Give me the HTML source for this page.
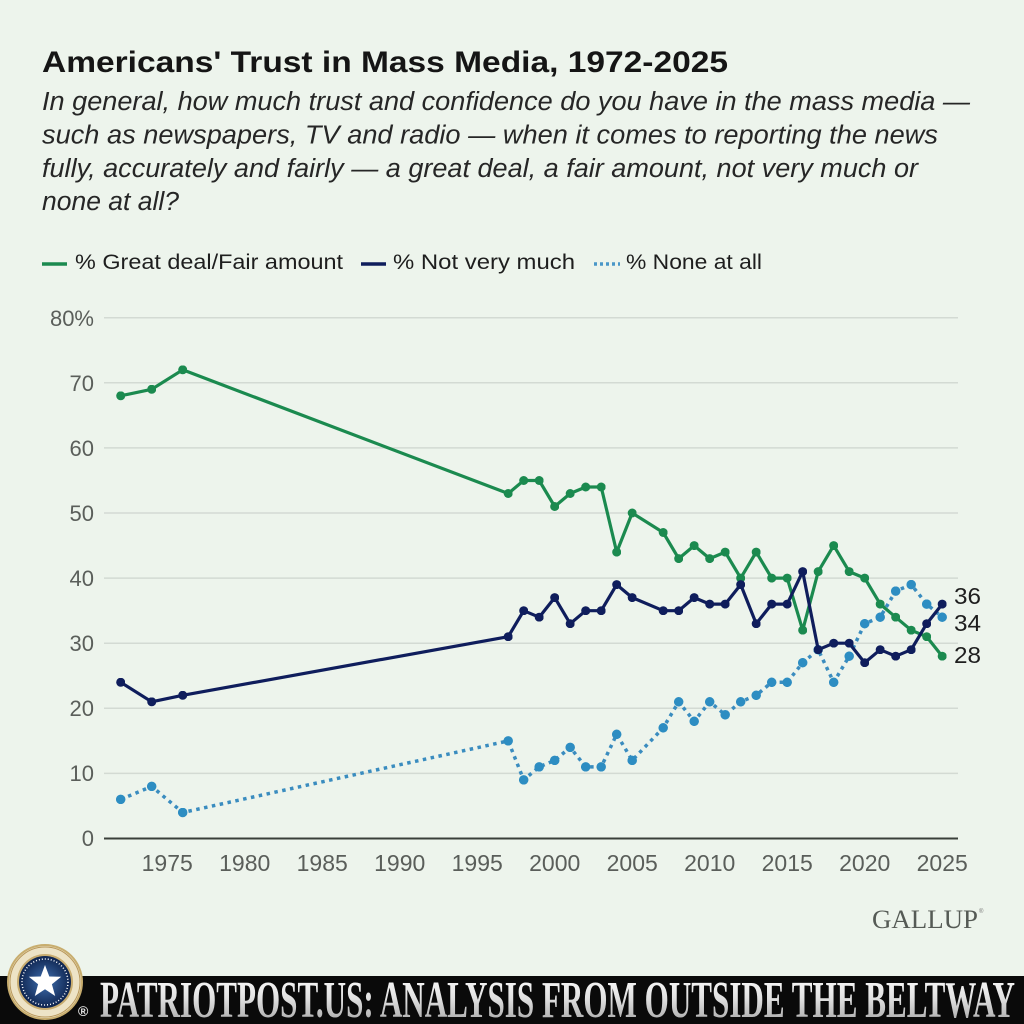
<!DOCTYPE html>
<html>
<head>
<meta charset="utf-8">
<style>
  html,body{margin:0;padding:0;background:#edf4ec;}
  body{width:1024px;height:1024px;overflow:hidden;}
  svg{display:block;}
</style>
</head>
<body>
<svg width="1024" height="1024" viewBox="0 0 1024 1024" xmlns="http://www.w3.org/2000/svg">
  <defs>
    <marker id="mg" viewBox="0 0 10 10" refX="5" refY="5" markerWidth="9" markerHeight="9" markerUnits="userSpaceOnUse">
      <circle cx="5" cy="5" r="5" fill="#1b8a4f"/>
    </marker>
    <marker id="mn" viewBox="0 0 10 10" refX="5" refY="5" markerWidth="9" markerHeight="9" markerUnits="userSpaceOnUse">
      <circle cx="5" cy="5" r="5" fill="#0f1d5c"/>
    </marker>
    <marker id="mb" viewBox="0 0 10 10" refX="5" refY="5" markerWidth="9.5" markerHeight="9.5" markerUnits="userSpaceOnUse">
      <circle cx="5" cy="5" r="5" fill="#2d8dc2"/>
    </marker>
    <linearGradient id="silver" x1="0" y1="0" x2="0" y2="1">
      <stop offset="0" stop-color="#ffffff"/>
      <stop offset="0.45" stop-color="#e2e2e2"/>
      <stop offset="1" stop-color="#9a9a9a"/>
    </linearGradient>
    <radialGradient id="navyg" cx="0.5" cy="0.5" r="0.5">
      <stop offset="0" stop-color="#3f6fb0"/>
      <stop offset="1" stop-color="#0f2550"/>
    </radialGradient>
  </defs>

  <rect x="0" y="0" width="1024" height="1024" fill="#edf4ec"/>

  <!-- Title -->
  <text x="42" y="72" font-family="Liberation Sans, sans-serif" font-weight="bold" font-size="30" fill="#151515" textLength="686" lengthAdjust="spacingAndGlyphs">Americans' Trust in Mass Media, 1972-2025</text>

  <!-- Subtitle -->
  <g font-family="Liberation Sans, sans-serif" font-style="italic" font-size="25.5" fill="#262626">
    <text x="42" y="110" textLength="928" lengthAdjust="spacingAndGlyphs">In general, how much trust and confidence do you have in the mass media —</text>
    <text x="42" y="143.5" textLength="896" lengthAdjust="spacingAndGlyphs">such as newspapers, TV and radio — when it comes to reporting the news</text>
    <text x="42" y="177" textLength="876" lengthAdjust="spacingAndGlyphs">fully, accurately and fairly — a great deal, a fair amount, not very much or</text>
    <text x="42" y="210" textLength="137" lengthAdjust="spacingAndGlyphs">none at all?</text>
  </g>

  <!-- Legend -->
  <g font-family="Liberation Sans, sans-serif" font-size="21.5" fill="#1e1e1e">
    <line x1="42" y1="264" x2="67" y2="264" stroke="#1b8a4f" stroke-width="3.5"/>
    <text x="75" y="269" textLength="268" lengthAdjust="spacingAndGlyphs">% Great deal/Fair amount</text>
    <line x1="361" y1="264" x2="386" y2="264" stroke="#0f1d5c" stroke-width="3.5"/>
    <text x="393" y="269" textLength="182" lengthAdjust="spacingAndGlyphs">% Not very much</text>
    <line x1="594" y1="264" x2="620" y2="264" stroke="#4a97c8" stroke-width="3.5" stroke-dasharray="3 3"/>
    <text x="626" y="269" textLength="136" lengthAdjust="spacingAndGlyphs">% None at all</text>
  </g>

  <!-- Gridlines -->
  <g stroke="#d3dad3" stroke-width="1.5">
    <line x1="104" y1="317.7" x2="958" y2="317.7"/>
    <line x1="104" y1="382.8" x2="958" y2="382.8"/>
    <line x1="104" y1="447.9" x2="958" y2="447.9"/>
    <line x1="104" y1="513.0" x2="958" y2="513.0"/>
    <line x1="104" y1="578.1" x2="958" y2="578.1"/>
    <line x1="104" y1="643.2" x2="958" y2="643.2"/>
    <line x1="104" y1="708.3" x2="958" y2="708.3"/>
    <line x1="104" y1="773.4" x2="958" y2="773.4"/>
  </g>
  <line x1="104" y1="838.5" x2="958" y2="838.5" stroke="#3a3f3a" stroke-width="2"/>

  <!-- Y labels -->
  <g font-family="Liberation Sans, sans-serif" font-size="22" fill="#5a5e5a" text-anchor="end">
    <text x="94" y="326">80%</text>
    <text x="94" y="391">70</text>
    <text x="94" y="456">60</text>
    <text x="94" y="521">50</text>
    <text x="94" y="586">40</text>
    <text x="94" y="651">30</text>
    <text x="94" y="716">20</text>
    <text x="94" y="781">10</text>
    <text x="94" y="846">0</text>
  </g>

  <!-- X labels -->
  <g font-family="Liberation Sans, sans-serif" font-size="23" fill="#5a5e5a" text-anchor="middle">
    <text x="167.2" y="871">1975</text>
    <text x="244.7" y="871">1980</text>
    <text x="322.2" y="871">1985</text>
    <text x="399.7" y="871">1990</text>
    <text x="477.2" y="871">1995</text>
    <text x="554.7" y="871">2000</text>
    <text x="632.2" y="871">2005</text>
    <text x="709.7" y="871">2010</text>
    <text x="787.2" y="871">2015</text>
    <text x="864.7" y="871">2020</text>
    <text x="942.2" y="871">2025</text>
  </g>

  <!-- None at all (dotted) -->
  <polyline fill="none" stroke="#3a8cbf" stroke-width="3.5" stroke-dasharray="3.5 4.5"
    marker-start="url(#mb)" marker-mid="url(#mb)" marker-end="url(#mb)"
    points="120.7,799.4 151.7,786.4 182.7,812.5 508.2,740.9 523.7,779.9 539.2,766.9 554.7,760.4 570.2,747.4 585.7,766.9 601.2,766.9 616.7,734.3 632.2,760.4 663.2,727.8 678.7,701.8 694.2,721.3 709.7,701.8 725.2,714.8 740.7,701.8 756.2,695.3 771.7,682.3 787.2,682.3 802.7,662.7 818.2,649.7 833.7,682.3 849.2,656.2 864.7,623.7 880.2,617.2 895.7,591.1 911.2,584.6 926.7,604.1 942.2,617.2"/>

  <!-- Great deal/Fair amount (green) -->
  <polyline fill="none" stroke="#1b8a4f" stroke-width="3.2" stroke-linejoin="round"
    marker-start="url(#mg)" marker-mid="url(#mg)" marker-end="url(#mg)"
    points="120.7,395.8 151.7,389.3 182.7,369.8 508.2,493.5 523.7,480.5 539.2,480.5 554.7,506.5 570.2,493.5 585.7,487.0 601.2,487.0 616.7,552.1 632.2,513.0 663.2,532.5 678.7,558.6 694.2,545.6 709.7,558.6 725.2,552.1 740.7,578.1 756.2,552.1 771.7,578.1 787.2,578.1 802.7,630.2 818.2,571.6 833.7,545.6 849.2,571.6 864.7,578.1 880.2,604.1 895.7,617.2 911.2,630.2 926.7,636.7 942.2,656.2"/>

  <!-- Not very much (navy) -->
  <polyline fill="none" stroke="#0f1d5c" stroke-width="3.2" stroke-linejoin="round"
    marker-start="url(#mn)" marker-mid="url(#mn)" marker-end="url(#mn)"
    points="120.7,682.3 151.7,701.8 182.7,695.3 508.2,636.7 523.7,610.7 539.2,617.2 554.7,597.6 570.2,623.7 585.7,610.7 601.2,610.7 616.7,584.6 632.2,597.6 663.2,610.7 678.7,610.7 694.2,597.6 709.7,604.1 725.2,604.1 740.7,584.6 756.2,623.7 771.7,604.1 787.2,604.1 802.7,571.6 818.2,649.7 833.7,643.2 849.2,643.2 864.7,662.7 880.2,649.7 895.7,656.2 911.2,649.7 926.7,623.7 942.2,604.1"/>

  <!-- End labels -->
  <g font-family="Liberation Sans, sans-serif" font-size="23" fill="#1e1e1e">
    <text x="954" y="604" textLength="27" lengthAdjust="spacingAndGlyphs">36</text>
    <text x="954" y="631" textLength="27" lengthAdjust="spacingAndGlyphs">34</text>
    <text x="954" y="663" textLength="27" lengthAdjust="spacingAndGlyphs">28</text>
  </g>

  <!-- Gallup logo -->
  <text x="872" y="928" font-family="Liberation Serif, serif" font-size="26" fill="#555a55" textLength="106" lengthAdjust="spacingAndGlyphs">GALLUP</text>
  <text x="979" y="913" font-family="Liberation Sans, sans-serif" font-size="6" fill="#777">®</text>

  <!-- Bottom banner -->
  <rect x="0" y="976" width="1024" height="48" fill="#0a0a0a"/>
  <text x="100" y="1017" font-family="Liberation Serif, serif" font-weight="bold" font-size="52" fill="url(#silver)" textLength="915" lengthAdjust="spacingAndGlyphs">PATRIOTPOST.US: ANALYSIS FROM OUTSIDE THE BELTWAY</text>

  <!-- Seal -->
  <circle cx="45" cy="982" r="38" fill="#c8ad6e"/>
  <circle cx="45" cy="982" r="36" fill="#ede3c6"/>
  <circle cx="45" cy="982" r="35" fill="none" stroke="#b8975a" stroke-width="1"/>
  <circle cx="45" cy="982" r="28" fill="#c9ad70"/>
  <circle cx="45" cy="982" r="26" fill="url(#navyg)"/>
  <circle cx="45" cy="982" r="23" fill="none" stroke="#ffffff" stroke-width="1.5" stroke-dasharray="1 2"/>
  <polygon fill="#ffffff" points="45,965 49.3,976.5 61.2,976.8 51.9,984.3 55.2,996 45,989.2 34.8,996 38.1,984.3 28.8,976.8 40.7,976.5"/>
  <text x="78" y="1016" font-family="Liberation Sans, sans-serif" font-size="14" font-weight="bold" fill="#e8e8e8">®</text>
</svg>
</body>
</html>
